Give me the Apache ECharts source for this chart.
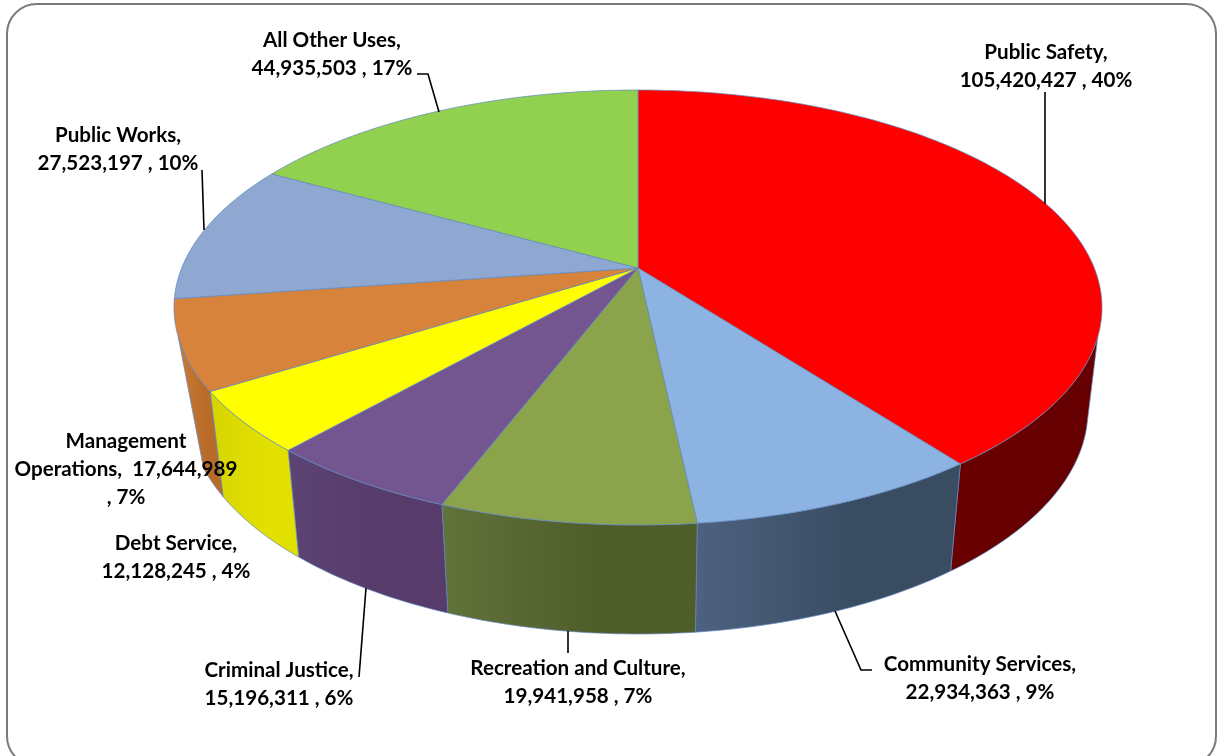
<!DOCTYPE html>
<html>
<head>
<meta charset="utf-8">
<title>General Fund Uses</title>
<script src="https://cdn.jsdelivr.net/npm/echarts@6/dist/echarts.min.js"></script>
<style>
  html, body { margin: 0; padding: 0; background: #fff; }
  #chart { width: 1218px; height: 756px; }
</style>
</head>
<body>
<div id="chart"></div>
<script>
// Budget uses, clockwise from twelve o'clock
const categories = ['Public Safety', 'Community Services', 'Recreation and Culture', 'Criminal Justice',
  'Debt Service', 'Management Operations', 'Public Works', 'All Other Uses'];
const amounts = [105420427, 22934363, 19941958, 15196311, 12128245, 17644989, 27523197, 44935503];
const statedPercents = [40, 9, 7, 6, 4, 7, 10, 17];

// Slice colours: top face, then the left and right ends of the side wall
const topColors = ['#ff0000', '#8db3e2', '#8ba44c', '#735590', '#ffff00', '#d8833b', '#8ea8d2', '#92d050'];
const wallLeft = ['#6a0000', '#4d6280', '#61733a', '#5c4474', '#d6d400', '#c97a35', '#6d84a8', '#6f9f3c'];
const wallRight = ['#660000', '#3a4c62', '#4f5d2b', '#573b6a', '#e2e000', '#b96c2a', '#6d84a8', '#6f9f3c'];

// Perspective disc: the rim projects from the unit circle through a homography
const TILT = 0.1816;
const topPlane = { cx: 638, cy: 268, ax: 456.3, ay: 210.3 };
const basePlane = { cx: 638, cy: 369.3, ax: 442.5, ay: 216.6 };
// Arc ranges (degrees) where each rim is on the visible silhouette
const topVisible = [108, 252];
const baseVisible = [105, 245];

// Label placement: centre x and centre y of the first line; leader polylines
const labelPlacement = [
  { x: 1046, y: 52 }, { x: 980, y: 664 }, { x: 578, y: 668 }, { x: 279, y: 670 },
  { x: 176, y: 543 }, { x: 126, y: 441 }, { x: 118, y: 135 }, { x: 332, y: 40 }
];
const leaderPaths = [
  [[1045, 92], [1045, 204]],
  [[835, 611], [861, 670], [872, 670]],
  [[568, 631], [568, 653]],
  [[366, 588], [359, 677]],
  null,
  null,
  [[202, 170], [204, 230]],
  [[417, 74], [428, 74], [439, 112]]
];

const total = amounts.reduce((s, v) => s + v, 0);
const cumulative = [];
amounts.reduce((s, v, i) => { cumulative[i] = s; return s + v; }, 0);

const toDegrees = v => echarts.number.linearMap(v, [0, total], [0, 360]);

function project(plane, deg) {
  const t = deg * Math.PI / 180;
  const u = Math.sin(t), v = -Math.cos(t);
  const d = 1 - TILT * v;
  return [plane.cx + plane.ax * u / d, plane.cy + plane.ay * v / d];
}

function arc(plane, from, to) {
  const pts = [];
  const n = Math.max(1, Math.ceil(Math.abs(to - from)));
  for (let i = 0; i <= n; i++) pts.push(project(plane, from + (to - from) * i / n));
  return pts;
}

function sliceAngles(params, api) {
  const start = toDegrees(cumulative[params.dataIndex]);
  return [start, start + toDegrees(api.value(0))];
}

const EDGE = 'rgba(96,136,190,0.7)';

function renderWall(params, api) {
  const [a, b] = sliceAngles(params, api);
  const i = params.dataIndex;
  const t0 = Math.max(a, topVisible[0]), t1 = Math.min(b, topVisible[1]);
  const b0 = Math.max(a, baseVisible[0]), b1 = Math.min(b, baseVisible[1]);
  if (t0 >= t1 || b0 >= b1) return { type: 'group', children: [] };
  const points = arc(topPlane, t0, t1).concat(arc(basePlane, b1, b0));
  return {
    type: 'polygon',
    shape: { points },
    style: {
      // each wall shades horizontally across its own width, settling past the middle
      fill: new echarts.graphic.LinearGradient(0, 0, 1, 0, [
        { offset: 0, color: wallLeft[i] }, { offset: 0.6, color: wallRight[i] }, { offset: 1, color: wallRight[i] }
      ]),
      stroke: EDGE,
      lineWidth: 1
    }
  };
}

function renderTop(params, api) {
  const [a, b] = sliceAngles(params, api);
  const points = [[topPlane.cx, topPlane.cy]].concat(arc(topPlane, a, b));
  return {
    type: 'polygon',
    shape: { points },
    style: { fill: topColors[params.dataIndex], stroke: EDGE, lineWidth: 1 }
  };
}

function labelText(i) {
  const name = categories[i];
  const amount = echarts.format.addCommas(amounts[i]);
  if (name === 'Management Operations') {
    return 'Management\nOperations,  ' + amount + '\n, ' + statedPercents[i] + '%';
  }
  return name + ',\n' + amount + ' , ' + statedPercents[i] + '%';
}

function renderLabel(params) {
  const i = params.dataIndex;
  const children = [{
    type: 'text',
    x: labelPlacement[i].x,
    y: labelPlacement[i].y - 14,
    style: {
      text: labelText(i),
      fill: '#000',
      font: 'bold 20.6px Lato',
      lineHeight: 28,
      align: 'center',
      verticalAlign: 'top'
    }
  }];
  if (leaderPaths[i]) {
    children.push({
      type: 'polyline',
      shape: { points: leaderPaths[i] },
      style: { stroke: '#000', lineWidth: 1.6, fill: 'none' }
    });
  }
  return { type: 'group', children };
}

const seriesData = amounts.map((v, i) => ({ name: categories[i], value: v }));

const chart = echarts.init(document.getElementById('chart'), null, { renderer: 'canvas' });
chart.setOption({
  backgroundColor: '#fff',
  animation: false,
  graphic: [{
    type: 'rect',
    z: 0,
    shape: { x: 7, y: 4, width: 1209, height: 762, r: 30 },
    style: { fill: '#fff', stroke: '#7b7b7b', lineWidth: 2 }
  }],
  series: [
    { type: 'custom', name: 'walls', coordinateSystem: 'none', z: 2, renderItem: renderWall, data: seriesData },
    { type: 'custom', name: 'faces', coordinateSystem: 'none', z: 3, renderItem: renderTop, data: seriesData },
    { type: 'custom', name: 'labels', coordinateSystem: 'none', z: 4, renderItem: renderLabel, data: seriesData }
  ]
});
</script>
</body>
</html>
